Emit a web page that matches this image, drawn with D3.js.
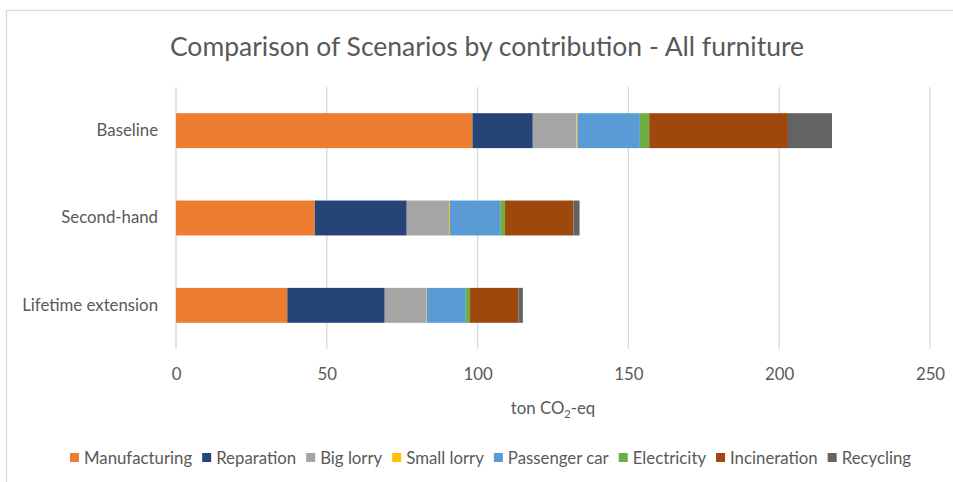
<!DOCTYPE html>
<html>
<head>
<meta charset="utf-8">
<script src="https://cdn.jsdelivr.net/npm/d3@7"></script>
<style>
  html, body { margin: 0; padding: 0; background: #fff; }
  svg { display: block; font-family: "Lato", "Open Sans", sans-serif; }
</style>
</head>
<body>
<svg id="chart" width="953" height="482"></svg>
<script>
// Scenarios (top to bottom)
const scenarios = ["Baseline", "Second-hand", "Lifetime extension"];

// Contribution categories, in stacking order
const contributions = ["Manufacturing", "Reparation", "Big lorry", "Small lorry",
                       "Passenger car", "Electricity", "Incineration", "Recycling"];

// ton CO2-eq per contribution, one entry per scenario
const manufacturing = [98.3, 46.0, 36.9];
const reparation    = [20.0, 30.5, 32.3];
const bigLorry      = [14.5, 14.0, 13.9];
const smallLorry    = [0.3, 0.3, 0.1];
const passengerCar  = [20.7, 16.7, 12.9];
const electricity   = [3.1, 1.6, 1.4];
const incineration  = [46.0, 22.7, 16.0];
const recycling     = [14.6, 2.0, 1.5];

const xTicks = [0, 50, 100, 150, 200, 250];

const colors = ["#ED7D31", "#264478", "#A5A5A5", "#FFC000",
                "#5B9BD5", "#70AD47", "#9E480E", "#636363"];

const seriesValues = [manufacturing, reparation, bigLorry, smallLorry,
                      passengerCar, electricity, incineration, recycling];

const rows = scenarios.map((s, i) => {
  const r = { scenario: s };
  contributions.forEach((c, j) => { r[c] = seriesValues[j][i]; });
  return r;
});

const svg = d3.select("#chart");
const textColor = "#595959";
const labelSize = 16.8;

// chart frame
svg.append("rect")
  .attr("x", 6.5).attr("y", 10.5)
  .attr("width", 960).attr("height", 480)
  .attr("fill", "none").attr("stroke", "#d9d9d9").attr("stroke-width", 1.3);

const x = d3.scaleLinear().domain([0, 250]).range([176, 930]);
const y = d3.scaleBand().domain(scenarios).range([87, 349])
  .paddingInner(0.6).paddingOuter(0.3);

// title
svg.append("text")
  .attr("x", 487).attr("y", 56)
  .attr("text-anchor", "middle")
  .attr("font-size", 26.5).attr("fill", textColor)
  .text("Comparison of Scenarios by contribution - All furniture");

// vertical gridlines
svg.append("g").selectAll("line").data(xTicks).join("line")
  .attr("x1", d => x(d)).attr("x2", d => x(d))
  .attr("y1", 87).attr("y2", 349)
  .attr("stroke", "#d9d9d9").attr("stroke-width", 1.3);

// stacked bars
const stack = d3.stack().keys(contributions)(rows);
svg.append("g").selectAll("g").data(stack).join("g")
  .attr("fill", (d, i) => colors[i])
  .selectAll("rect").data(d => d).join("rect")
  .attr("x", d => x(d[0]))
  .attr("width", d => x(d[1]) - x(d[0]))
  .attr("y", d => y(d.data.scenario))
  .attr("height", y.bandwidth());

// x axis tick labels
const xAxis = d3.axisBottom(x).tickValues(xTicks).tickSize(0).tickPadding(0);
const gx = svg.append("g").attr("transform", "translate(0,368)").call(xAxis);
gx.select(".domain").remove();
gx.selectAll("text").attr("font-size", labelSize).attr("fill", textColor)
  .attr("font-family", "Lato, 'Open Sans', sans-serif");

// y axis category labels
const yAxis = d3.axisLeft(y).tickSize(0).tickPadding(0);
const gy = svg.append("g").attr("transform", "translate(158,0)").call(yAxis);
gy.select(".domain").remove();
gy.selectAll("text").attr("font-size", labelSize).attr("fill", textColor)
  .attr("font-family", "Lato, 'Open Sans', sans-serif");

// axis title
const axTitle = svg.append("text")
  .attr("x", (x(0) + x(250)) / 2).attr("y", 414)
  .attr("text-anchor", "middle")
  .attr("font-size", labelSize).attr("fill", textColor);
axTitle.append("tspan").text("ton CO");
axTitle.append("tspan").attr("font-size", 11).attr("dy", 4).text("2");
axTitle.append("tspan").attr("dy", -4).text("-eq");

// legend
const legend = svg.append("g");
const gap = 10;
let lx = 0;
contributions.forEach((c, i) => {
  const g = legend.append("g");
  g.append("rect").attr("x", 0).attr("y", -5).attr("width", 9).attr("height", 9)
    .attr("fill", colors[i]);
  const t = g.append("text").attr("x", 14).attr("y", 5.5)
    .attr("font-size", labelSize).attr("fill", textColor).text(c);
  const w = 14 + t.node().getComputedTextLength();
  g.attr("transform", `translate(${lx},0)`);
  lx += w + gap;
});
const legendWidth = lx - gap;
legend.attr("transform", `translate(${(65 + 916) / 2 - legendWidth / 2},458)`);
</script>
</body>
</html>
